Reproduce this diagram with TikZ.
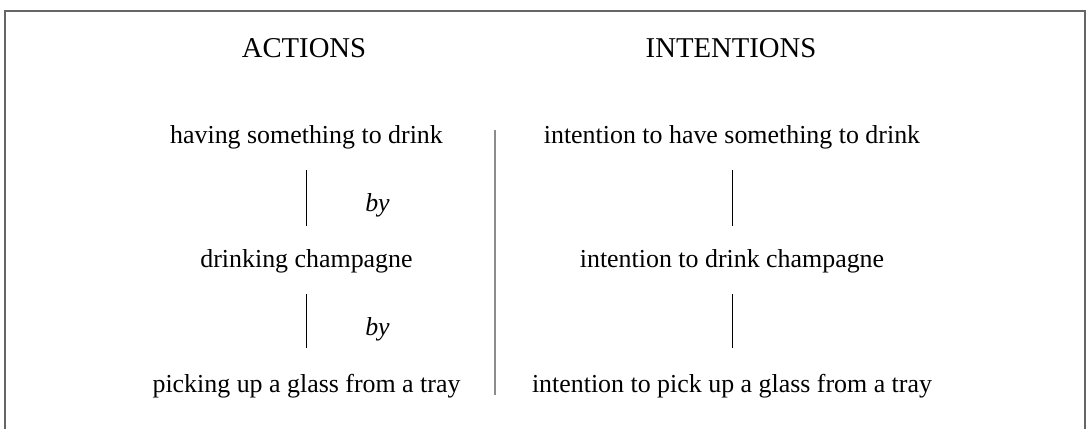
\documentclass[tikz,border=0pt]{standalone}
\usepackage{fontspec}
\setmainfont{Liberation Serif}
\usetikzlibrary{positioning}

\begin{document}
\begin{tikzpicture}[
    x=1pt, y=-1pt,
    font=\fontsize{25.9}{30}\selectfont,
    item/.style={anchor=base, inner sep=0pt},
    heading/.style={item, font=\fontsize{28.7}{34}\selectfont},
    link/.style={draw=black, line width=0.9pt},
    divider/.style={draw=black!45, line width=2pt},
    frame/.style={draw=black!60, line width=2pt},
    bylabel/.style={midway, xshift=71pt, font=\fontsize{25.9}{30}\selectfont\itshape}
]
    \useasboundingbox (0,0) rectangle (1086,428);

    % Frame (open at the bottom)
    \draw[frame] (4.5,440) |- (1085,11) -- (1085,440);

    % Headings
    \node[heading] (actions) at (304,58) {ACTIONS};
    \node[heading] (intentions) at (731,58) {INTENTIONS};

    % Actions
    \node[item] (have) at (306.5,143) {having something to drink};
    \node[item] (drink) at (306.5,267) {drinking champagne};
    \node[item] (pick) at (306.5,392) {picking up a glass from a tray};

    % Intentions
    \node[item] (ihave) at (732,143) {intention to have something to drink};
    \node[item] (idrink) at (732,267) {intention to drink champagne};
    \node[item] (ipick) at (732,392) {intention to pick up a glass from a tray};

    % Links
    \draw[link, shorten <=27pt, shorten >=41pt] (have.base) -- (drink.base) node[bylabel] {by};
    \draw[link, shorten <=27pt, shorten >=44pt] (drink.base) -- (pick.base) node[bylabel] {by};
    \draw[link, shorten <=27pt, shorten >=41pt] (ihave.base) -- (idrink.base);
    \draw[link, shorten <=27pt, shorten >=44pt] (idrink.base) -- (ipick.base);

    % Divider
    \coordinate (divtop) at (494.7,130);
    \coordinate (divbot) at (494.7,395);
    \draw[divider] (divtop) -- (divbot);
\end{tikzpicture}
\end{document}
